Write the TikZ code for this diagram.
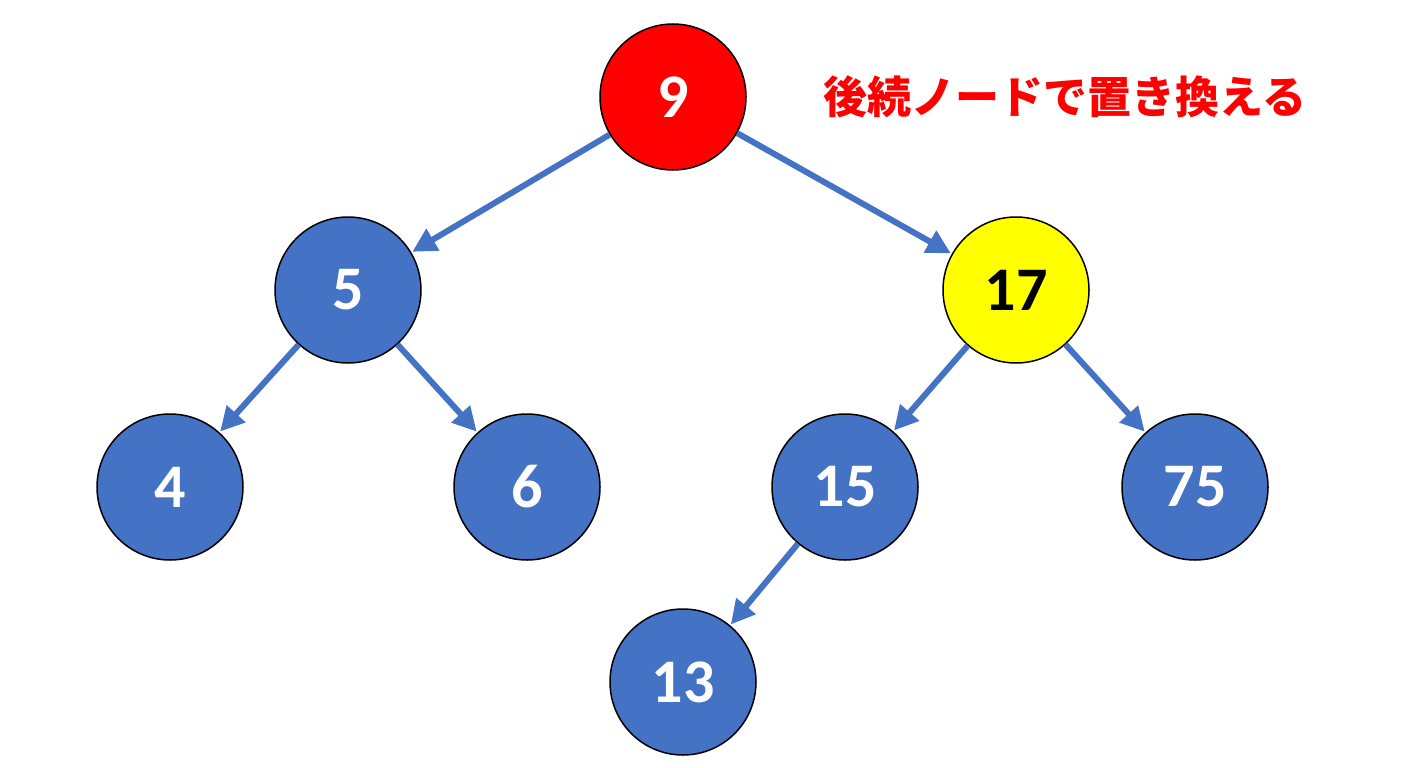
\documentclass[tikz,border=0pt]{standalone}
\usepackage{fontspec}
\setmainfont{Carlito}
\newfontfamily\cjk{Noto Sans CJK JP}
\usetikzlibrary{arrows.meta}
\definecolor{nodeblue}{RGB}{68,114,196}
\definecolor{rootred}{RGB}{255,0,0}
\definecolor{succyellow}{RGB}{255,255,0}
\begin{document}
\begin{tikzpicture}[
    x=1pt, y=-1pt,
    tnode/.style={draw=black, circle, line width=1.5pt, fill=nodeblue, minimum size=146pt, inner sep=0pt, text=white, font=\fontsize{62}{62}\selectfont\bfseries},
    arrow/.style={-{Triangle[length=24pt,width=24pt]}, line width=6pt, draw=nodeblue, shorten >=1pt}
]
    \useasboundingbox (0,0) rectangle (1408,768);

    % Nodes
    \node[tnode, fill=rootred] (n9) at (673,97) {9};
    \node[tnode] (n5) at (348,290) {5};
    \node[tnode, fill=succyellow, text=black] (n17) at (1016,290) {17};
    \node[tnode] (n4) at (170,487) {4};
    \node[tnode] (n6) at (527,487) {6};
    \node[tnode] (n15) at (845,487) {15};
    \node[tnode] (n75) at (1195,487) {75};
    \node[tnode] (n13) at (683,682) {13};

    % Label
    \node[text=rootred, font=\cjk\fontsize{44}{44}\selectfont\bfseries] (lbl) at (1065,97) {後続ノードで置き換える};

    % Edges
    \draw[arrow] (n9) -- (n5);
    \draw[arrow] (n9) -- (n17);
    \draw[arrow] (n5) -- (n4);
    \draw[arrow] (n5) -- (n6);
    \draw[arrow] (n17) -- (n15);
    \draw[arrow] (n17) -- (n75);
    \draw[arrow] (n15) -- (n13);
\end{tikzpicture}
\end{document}
